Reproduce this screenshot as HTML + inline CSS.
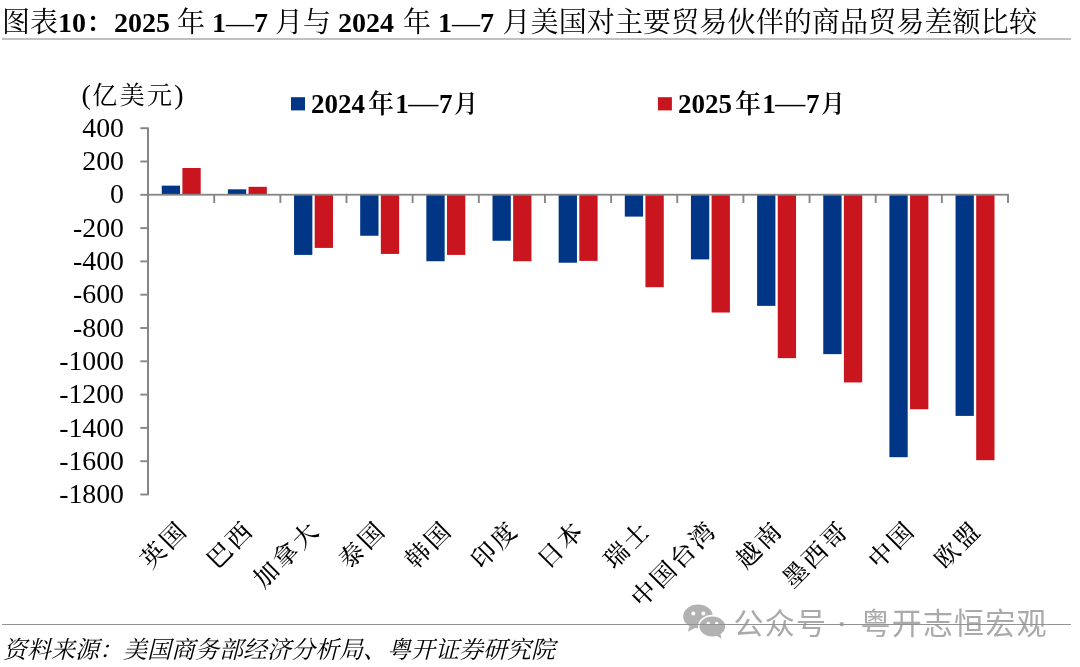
<!DOCTYPE html>
<html lang="zh-CN">
<head>
<meta charset="utf-8">
<title>图表10</title>
<style>
html,body{margin:0;padding:0;background:#fff;}
body{width:1080px;height:667px;position:relative;overflow:hidden;font-family:"Liberation Serif","Noto Serif CJK SC",serif;color:#000;}
.title{position:absolute;left:2px;top:4.3px;height:38px;line-height:38px;font-size:28px;white-space:nowrap;letter-spacing:0;}
.title b{font-weight:bold;}
.title .sp{letter-spacing:0.14px;margin-left:1.3px;}
.hr1{position:absolute;left:2px;top:38.2px;width:1068.8px;height:1.5px;background:#c0c0c0;}
.hr2{position:absolute;left:2px;top:623.9px;width:1068.8px;height:1px;background:#929292;}
.src{position:absolute;left:3px;top:634px;font-size:24px;line-height:32px;font-style:italic;white-space:nowrap;}
svg{position:absolute;left:0;top:0;}
svg text{font-family:"Liberation Serif","Noto Serif CJK SC",serif;fill:#000;}
.yl{font-size:27.8px;}
.cl{font-size:24.5px;letter-spacing:2.8px;font-weight:500;}
.unit{font-size:28px;}
.uc{font-size:25px;letter-spacing:2.3px;}
.lg{font-size:27px;font-weight:bold;}
.lgc{font-size:26px;font-weight:600;}
.lgd{font-size:30px;font-weight:normal;}
.wm{position:absolute;top:605.2px;font-family:"Liberation Sans","Noto Sans CJK SC",sans-serif;font-size:30px;line-height:38px;color:#aaaaaa;white-space:nowrap;letter-spacing:1.2px;}
</style>
</head>
<body>
<div class="title">图表<b>10</b><span style="font-weight:600">：</span><b>2025</b> 年 <b>1</b>—<b>7</b> 月与 <b>2024</b> <span style="margin-left:2px">年</span> <b>1</b>—<b>7</b> <span class="sp">月美国对主要贸易伙伴的商品贸易差额比较</span></div>
<div class="hr1"></div>
<svg width="1080" height="667" viewBox="0 0 1080 667">
<rect x="161.75" y="185.64" width="18.3" height="9.16" fill="#003685"/>
<rect x="182.40" y="167.99" width="18.3" height="26.81" fill="#c8151e"/>
<rect x="227.90" y="189.31" width="18.3" height="5.49" fill="#003685"/>
<rect x="248.55" y="186.81" width="18.3" height="7.99" fill="#c8151e"/>
<rect x="294.05" y="194.80" width="18.3" height="60.11" fill="#003685"/>
<rect x="314.70" y="194.80" width="18.3" height="53.11" fill="#c8151e"/>
<rect x="360.20" y="194.80" width="18.3" height="40.96" fill="#003685"/>
<rect x="380.85" y="194.80" width="18.3" height="59.11" fill="#c8151e"/>
<rect x="426.35" y="194.80" width="18.3" height="66.43" fill="#003685"/>
<rect x="447.00" y="194.80" width="18.3" height="60.11" fill="#c8151e"/>
<rect x="492.50" y="194.80" width="18.3" height="45.95" fill="#003685"/>
<rect x="513.15" y="194.80" width="18.3" height="66.43" fill="#c8151e"/>
<rect x="558.65" y="194.80" width="18.3" height="67.93" fill="#003685"/>
<rect x="579.30" y="194.80" width="18.3" height="66.10" fill="#c8151e"/>
<rect x="624.80" y="194.80" width="18.3" height="21.81" fill="#003685"/>
<rect x="645.45" y="194.80" width="18.3" height="92.41" fill="#c8151e"/>
<rect x="690.95" y="194.80" width="18.3" height="64.60" fill="#003685"/>
<rect x="711.60" y="194.80" width="18.3" height="117.72" fill="#c8151e"/>
<rect x="757.10" y="194.80" width="18.3" height="111.06" fill="#003685"/>
<rect x="777.75" y="194.80" width="18.3" height="163.34" fill="#c8151e"/>
<rect x="823.25" y="194.80" width="18.3" height="159.34" fill="#003685"/>
<rect x="843.90" y="194.80" width="18.3" height="187.65" fill="#c8151e"/>
<rect x="889.40" y="194.80" width="18.3" height="262.40" fill="#003685"/>
<rect x="910.05" y="194.80" width="18.3" height="214.45" fill="#c8151e"/>
<rect x="955.55" y="194.80" width="18.3" height="221.11" fill="#003685"/>
<rect x="976.20" y="194.80" width="18.3" height="265.40" fill="#c8151e"/>
<rect x="147" y="127.4" width="2" height="367.9" fill="#868686"/>
<rect x="147" y="193.8" width="861.90" height="1.85" fill="#868686"/>
<rect x="140.3" y="127.25" width="7" height="1.9" fill="#868686"/>
<rect x="140.3" y="160.55" width="7" height="1.9" fill="#868686"/>
<rect x="140.3" y="193.85" width="7" height="1.9" fill="#868686"/>
<rect x="140.3" y="227.15" width="7" height="1.9" fill="#868686"/>
<rect x="140.3" y="260.45" width="7" height="1.9" fill="#868686"/>
<rect x="140.3" y="293.75" width="7" height="1.9" fill="#868686"/>
<rect x="140.3" y="327.05" width="7" height="1.9" fill="#868686"/>
<rect x="140.3" y="360.35" width="7" height="1.9" fill="#868686"/>
<rect x="140.3" y="393.65" width="7" height="1.9" fill="#868686"/>
<rect x="140.3" y="426.95" width="7" height="1.9" fill="#868686"/>
<rect x="140.3" y="460.25" width="7" height="1.9" fill="#868686"/>
<rect x="140.3" y="493.55" width="7" height="1.9" fill="#868686"/>
<rect x="213.25" y="194.8" width="1.9" height="8.20" fill="#868686"/>
<rect x="279.40" y="194.8" width="1.9" height="8.20" fill="#868686"/>
<rect x="345.55" y="194.8" width="1.9" height="8.20" fill="#868686"/>
<rect x="411.70" y="194.8" width="1.9" height="8.20" fill="#868686"/>
<rect x="477.85" y="194.8" width="1.9" height="8.20" fill="#868686"/>
<rect x="544.00" y="194.8" width="1.9" height="8.20" fill="#868686"/>
<rect x="610.15" y="194.8" width="1.9" height="8.20" fill="#868686"/>
<rect x="676.30" y="194.8" width="1.9" height="8.20" fill="#868686"/>
<rect x="742.45" y="194.8" width="1.9" height="8.20" fill="#868686"/>
<rect x="808.60" y="194.8" width="1.9" height="8.20" fill="#868686"/>
<rect x="874.75" y="194.8" width="1.9" height="8.20" fill="#868686"/>
<rect x="940.90" y="194.8" width="1.9" height="8.20" fill="#868686"/>
<rect x="1007.05" y="194.8" width="1.9" height="8.20" fill="#868686"/>
<text class="yl" x="124" y="136.80" text-anchor="end">400</text>
<text class="yl" x="124" y="170.10" text-anchor="end">200</text>
<text class="yl" x="124" y="203.40" text-anchor="end">0</text>
<text class="yl" x="124" y="236.70" text-anchor="end">-200</text>
<text class="yl" x="124" y="270.00" text-anchor="end">-400</text>
<text class="yl" x="124" y="303.30" text-anchor="end">-600</text>
<text class="yl" x="124" y="336.60" text-anchor="end">-800</text>
<text class="yl" x="124" y="369.90" text-anchor="end">-1000</text>
<text class="yl" x="124" y="403.20" text-anchor="end">-1200</text>
<text class="yl" x="124" y="436.50" text-anchor="end">-1400</text>
<text class="yl" x="124" y="469.80" text-anchor="end">-1600</text>
<text class="yl" x="124" y="503.10" text-anchor="end">-1800</text>
<text class="cl" transform="translate(183.43,525.30) rotate(-45)" text-anchor="end" x="0" y="8.5">英国</text>
<text class="cl" transform="translate(249.57,525.30) rotate(-45)" text-anchor="end" x="0" y="8.5">巴西</text>
<text class="cl" transform="translate(315.72,525.30) rotate(-45)" text-anchor="end" x="0" y="8.5">加拿大</text>
<text class="cl" transform="translate(381.88,525.30) rotate(-45)" text-anchor="end" x="0" y="8.5">泰国</text>
<text class="cl" transform="translate(448.03,525.30) rotate(-45)" text-anchor="end" x="0" y="8.5">韩国</text>
<text class="cl" transform="translate(514.18,525.30) rotate(-45)" text-anchor="end" x="0" y="8.5">印度</text>
<text class="cl" transform="translate(580.33,525.30) rotate(-45)" text-anchor="end" x="0" y="8.5">日本</text>
<text class="cl" transform="translate(646.48,525.30) rotate(-45)" text-anchor="end" x="0" y="8.5">瑞士</text>
<text class="cl" transform="translate(712.63,525.30) rotate(-45)" text-anchor="end" x="0" y="8.5">中国台湾</text>
<text class="cl" transform="translate(778.78,525.30) rotate(-45)" text-anchor="end" x="0" y="8.5">越南</text>
<text class="cl" transform="translate(844.93,525.30) rotate(-45)" text-anchor="end" x="0" y="8.5">墨西哥</text>
<text class="cl" transform="translate(911.08,525.30) rotate(-45)" text-anchor="end" x="0" y="8.5">中国</text>
<text class="cl" transform="translate(977.23,525.30) rotate(-45)" text-anchor="end" x="0" y="8.5">欧盟</text>
<text class="unit" x="81.5" y="103.5">(<tspan class="uc" dx="1.5">亿美元</tspan>)</text>
<rect x="291.0" y="97.2" width="14" height="13.2" fill="#003685"/>
<text class="lg" y="113"><tspan x="311.00">2024</tspan><tspan class="lgc" x="368.00">年</tspan><tspan x="395.30">1</tspan><tspan class="lgd" x="408.30" dy="-0.5">—</tspan><tspan x="439.00" dy="0.5">7</tspan><tspan class="lgc" style="font-size:24px" x="454.00" dy="-0.8">月</tspan></text>
<rect x="657.9" y="97.2" width="14" height="13.2" fill="#c8151e"/>
<text class="lg" y="113"><tspan x="677.90">2025</tspan><tspan class="lgc" x="734.90">年</tspan><tspan x="762.20">1</tspan><tspan class="lgd" x="775.20" dy="-0.5">—</tspan><tspan x="805.90" dy="0.5">7</tspan><tspan class="lgc" style="font-size:24px" x="820.90" dy="-0.8">月</tspan></text>
<g fill="#b2b2b2">
<ellipse cx="698" cy="616.4" rx="14.8" ry="11.8"/>
<path d="M690 625 l-2.2 6.8 l8 -4.2 z"/>
<ellipse cx="712.3" cy="626.4" rx="13.6" ry="10.8" stroke="#fff" stroke-width="1.6"/>
<path d="M716 635.5 l5.6 3.2 l-1.2 -5 z"/>
</g>
<g fill="#fff">
<circle cx="693.3" cy="613.6" r="2"/><circle cx="703.4" cy="613.6" r="2"/>
<circle cx="708.3" cy="623.3" r="1.6"/><circle cx="716.7" cy="623.3" r="1.6"/>
</g>
</svg>
<div class="wm" style="left:733.5px">公众号</div><div class="wm" style="left:831.7px;font-size:20px;top:604.7px;letter-spacing:0;font-family:'Noto Sans CJK SC',sans-serif">·</div><div class="wm" style="left:860.5px">粤开志恒宏观</div>
<div class="hr2"></div>
<div class="src">资料来源：美国商务部经济分析局、粤开证券研究院</div>
</body>
</html>
